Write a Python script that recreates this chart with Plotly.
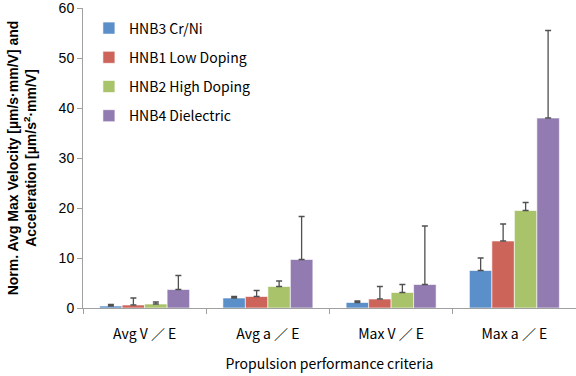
import plotly.graph_objects as go

categories = ["Avg V ／ E", "Avg a ／ E", "Max V ／ E", "Max a ／ E"]
series_names = ["HNB3 Cr/Ni", "HNB1 Low Doping", "HNB2 High Doping", "HNB4 Dielectric"]
hnb3 = [0.4, 2.0, 1.1, 7.5]
hnb1 = [0.6, 2.3, 1.8, 13.4]
hnb2 = [0.8, 4.3, 3.1, 19.5]
hnb4 = [3.7, 9.7, 4.7, 38.0]
hnb3_err = [0.3, 0.3, 0.3, 2.5]
hnb1_err = [1.4, 1.2, 2.5, 3.4]
hnb2_err = [0.4, 1.1, 1.6, 1.6]
hnb4_err = [2.8, 8.6, 11.7, 17.5]
y_ticks = [0, 10, 20, 30, 40, 50, 60]

colors = ["#5B8FC9", "#CD645A", "#A9C36A", "#917BB1"]
values = [hnb3, hnb1, hnb2, hnb4]
errors = [hnb3_err, hnb1_err, hnb2_err, hnb4_err]

fig = go.Figure()
for i in range(4):
    fig.add_trace(go.Bar(
        x=categories, y=values[i], name=series_names[i],
        legendgroup=f"g{i}",
        marker=dict(color=colors[i], line=dict(color="rgba(255,255,255,0.6)", width=1)),
        error_y=dict(type="data", array=errors[i], symmetric=False,
                     arrayminus=[0] * 4, color="#505050", thickness=1.3, width=3),
    ))

fig.update_layout(
    width=576, height=376,
    margin=dict(l=83, r=0, t=8, b=68, autoexpand=False),
    paper_bgcolor="white", plot_bgcolor="white",
    barmode="group", bargap=0.27, bargroupgap=0,
    font=dict(family="Liberation Sans, Arial", size=14, color="#000"),
    showlegend=True,
    legend=dict(x=0.012, y=0.985, xanchor="left", yanchor="top",
                font=dict(family="Noto Sans CJK JP", size=14),
                tracegroupgap=8, bgcolor="rgba(0,0,0,0)", itemwidth=30),
    xaxis=dict(
        automargin=False,
        tickson="boundaries", ticks="outside", ticklen=5, tickcolor="#A0A0A0",
        showline=True, linecolor="#A0A0A0", linewidth=1,
        tickfont=dict(family="Noto Sans CJK JP", size=14),
        ticklabelstandoff=13,
        title=dict(text="Propulsion performance criteria",
                   font=dict(family="Noto Sans CJK JP", size=14), standoff=17),
        showgrid=False,
    ),
    yaxis=dict(
        automargin=False,
        range=[0, 60], tickvals=y_ticks, ticks="outside", ticklen=5,
        tickcolor="#A0A0A0", showline=True, linecolor="#A0A0A0", linewidth=1,
        showgrid=False, zeroline=False, ticklabeloverflow="allow",
        tickfont=dict(family="Liberation Sans, Arial", size=14),
        title=dict(text="<b>Norm. Avg Max Velocity [µm/s·mm/V] and<br>Acceleration [µm/s<sup>2</sup>·mm/V]</b>",
                   font=dict(family="Liberation Sans, Arial", size=14), standoff=18),
    ),
)

fig.write_html("out.html", config={"displayModeBar": False},
               post_script="document.body.style.margin='0';")
